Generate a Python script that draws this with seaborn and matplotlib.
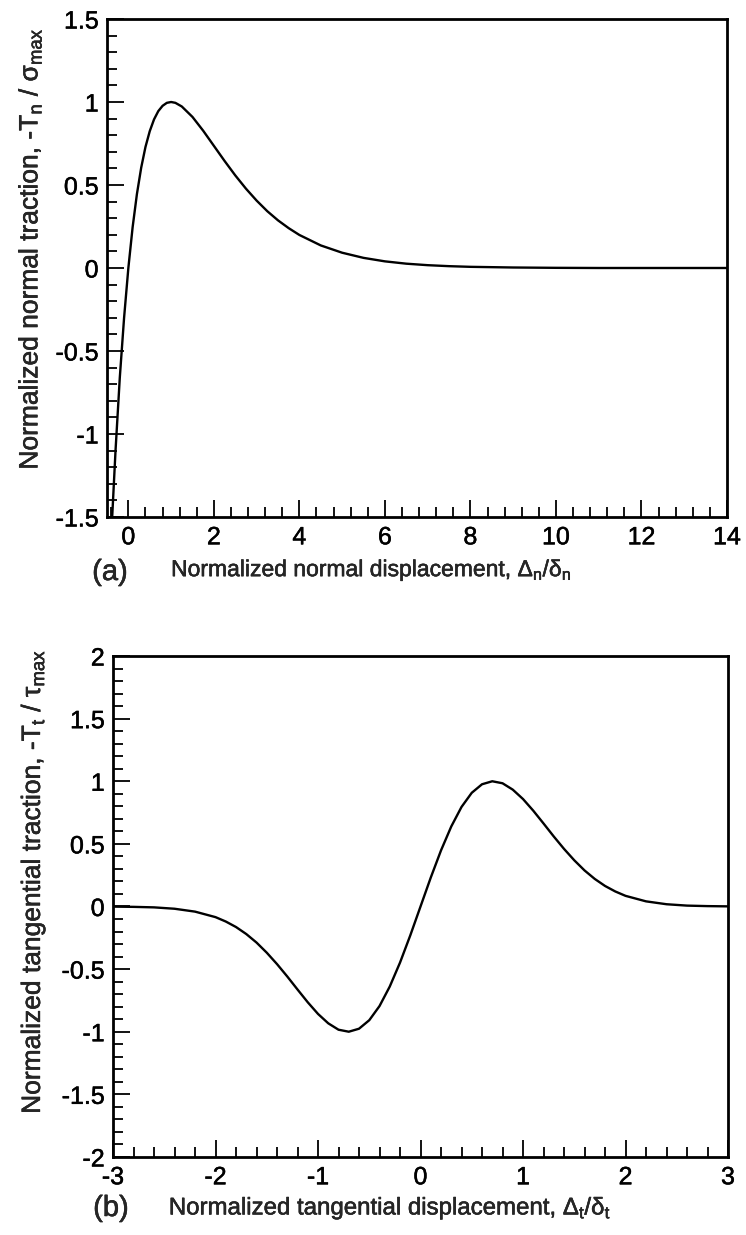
import matplotlib
matplotlib.use("Agg")
import matplotlib.pyplot as plt
from matplotlib.ticker import MultipleLocator, FuncFormatter
import matplotlib.patheffects as pe
import seaborn as sns
import pandas as pd

# Normal traction-separation curve (panel a)
normal_disp = [-0.38, -0.3, -0.2, -0.1, 0.0, 0.1, 0.2, 0.3, 0.4, 0.5, 0.6, 0.7,
               0.8, 0.9, 1.0, 1.1, 1.25, 1.5, 1.75, 2.0, 2.25, 2.5, 2.75, 3.0,
               3.25, 3.5, 3.75, 4.0, 4.5, 5.0, 5.5, 6.0, 6.5, 7.0, 7.5, 8.0, 9.0,
               10.0, 11.0, 12.0, 13.0, 14.0]
normal_trac = [-1.51, -1.10, -0.66, -0.30, 0.0, 0.246, 0.445, 0.604, 0.729, 0.824,
               0.895, 0.945, 0.977, 0.995, 1.0, 0.995, 0.973, 0.910, 0.827, 0.736,
               0.645, 0.558, 0.478, 0.406, 0.342, 0.287, 0.240, 0.199, 0.136,
               0.092, 0.061, 0.040, 0.026, 0.017, 0.011, 0.007, 0.003, 0.001, 0.0,
               0.0, 0.0, 0.0]

# Tangential traction-separation curve (panel b)
tang_disp = [-3.0, -2.8, -2.6, -2.4, -2.2, -2.0, -1.9, -1.8, -1.7, -1.6, -1.5,
             -1.4, -1.3, -1.2, -1.1, -1.0, -0.9, -0.8, -0.7, -0.6, -0.5, -0.4,
             -0.3, -0.2, -0.1, 0.0, 0.1, 0.2, 0.3, 0.4, 0.5, 0.6, 0.7, 0.8, 0.9,
             1.0, 1.1, 1.2, 1.3, 1.4, 1.5, 1.6, 1.7, 1.8, 1.9, 2.0, 2.2, 2.4,
             2.6, 2.8, 3.0]
tang_trac = [-0.001, -0.003, -0.007, -0.018, -0.041, -0.085, -0.120, -0.164,
             -0.220, -0.288, -0.369, -0.460, -0.559, -0.663, -0.765, -0.858,
             -0.933, -0.984, -1.0, -0.976, -0.908, -0.795, -0.639, -0.448,
             -0.231, 0.0, 0.231, 0.448, 0.639, 0.795, 0.908, 0.976, 1.0, 0.984,
             0.933, 0.858, 0.765, 0.663, 0.559, 0.460, 0.369, 0.288, 0.220,
             0.164, 0.120, 0.085, 0.041, 0.018, 0.007, 0.003, 0.001]

sns.set_style("white")
plt.rcParams["font.family"] = ["Liberation Sans", "DejaVu Sans"]
plt.rcParams["mathtext.fontset"] = "custom"
plt.rcParams["mathtext.rm"] = "Liberation Sans"
plt.rcParams["mathtext.it"] = "Liberation Sans:italic"

fig = plt.figure(figsize=(7.46, 12.35), dpi=100)
ax_a = fig.add_axes([0.1434, 0.5814, 0.8311, 0.4032])
ax_b = fig.add_axes([0.1515, 0.0632, 0.8244, 0.4056])

df_a = pd.DataFrame({"x": normal_disp, "y": normal_trac})
df_b = pd.DataFrame({"x": tang_disp, "y": tang_trac})
sns.lineplot(data=df_a, x="x", y="y", ax=ax_a, color="black", lw=1.7, sort=False)
sns.lineplot(data=df_b, x="x", y="y", ax=ax_b, color="black", lw=1.7, sort=False)

TICK_FS = 18
YLABEL_FS = 19
heavy = [pe.withStroke(linewidth=0.35, foreground="black")]

def style(ax, xlim, ylim, xmaj, xmin, ymaj, ymin):
    ax.set_xlim(*xlim)
    ax.set_ylim(*ylim)
    ax.xaxis.set_major_locator(MultipleLocator(xmaj))
    ax.xaxis.set_minor_locator(MultipleLocator(xmin))
    ax.yaxis.set_major_locator(MultipleLocator(ymaj))
    ax.yaxis.set_minor_locator(MultipleLocator(ymin))
    ax.tick_params(which="both", direction="in", top=False, right=False,
                   left=True, bottom=True, width=1.3, colors="black")
    ax.tick_params(which="major", length=12, labelsize=TICK_FS, pad=6)
    ax.tick_params(which="minor", length=7)
    for sp in ax.spines.values():
        sp.set_linewidth(2.0)
        sp.set_color("black")
    fmt = FuncFormatter(lambda v, p: f"{v:g}")
    ax.xaxis.set_major_formatter(fmt)
    ax.yaxis.set_major_formatter(fmt)
    for lab in ax.get_xticklabels() + ax.get_yticklabels():
        lab.set_path_effects(heavy)

style(ax_a, (-0.5, 14), (-1.5, 1.5), 2, 0.4, 0.5, 0.1)
style(ax_b, (-3, 3), (-2, 2), 1, 0.2, 0.5, 0.1)

ax_a.set_xlabel(r"Normalized normal displacement, Δ$_\mathregular{n}$/δ$_\mathregular{n}$",
                fontsize=16.5)
ax_a.set_ylabel(r"Normalized normal traction, -T$_\mathregular{n}$ / σ$_\mathregular{max}$",
                fontsize=YLABEL_FS)
ax_b.set_xlabel(r"Normalized tangential displacement, Δ$_\mathregular{t}$/δ$_\mathregular{t}$",
                fontsize=17.3)
ax_b.set_ylabel(r"Normalized tangential traction, -T$_\mathregular{t}$ / τ$_\mathregular{max}$",
                fontsize=YLABEL_FS)
ax_a.xaxis.set_label_coords(0.426, -0.106)
ax_a.yaxis.set_label_coords(-0.124, 0.538)
ax_b.xaxis.set_label_coords(0.450, -0.102)
ax_b.yaxis.set_label_coords(-0.130, 0.549)
for ax in (ax_a, ax_b):
    ax.xaxis.label.set_va("center")
    ax.yaxis.label.set_va("center")
    ax.xaxis.label.set_path_effects(heavy)
    ax.yaxis.label.set_path_effects(heavy)

fig.text(110 / 746, 1 - 572 / 1235, "(a)", fontsize=21, ha="center", va="center",
         path_effects=heavy)
fig.text(111 / 746, 1 - 1208 / 1235, "(b)", fontsize=21, ha="center", va="center",
         path_effects=heavy)

fig.savefig("out.png", dpi=100, facecolor="white")
